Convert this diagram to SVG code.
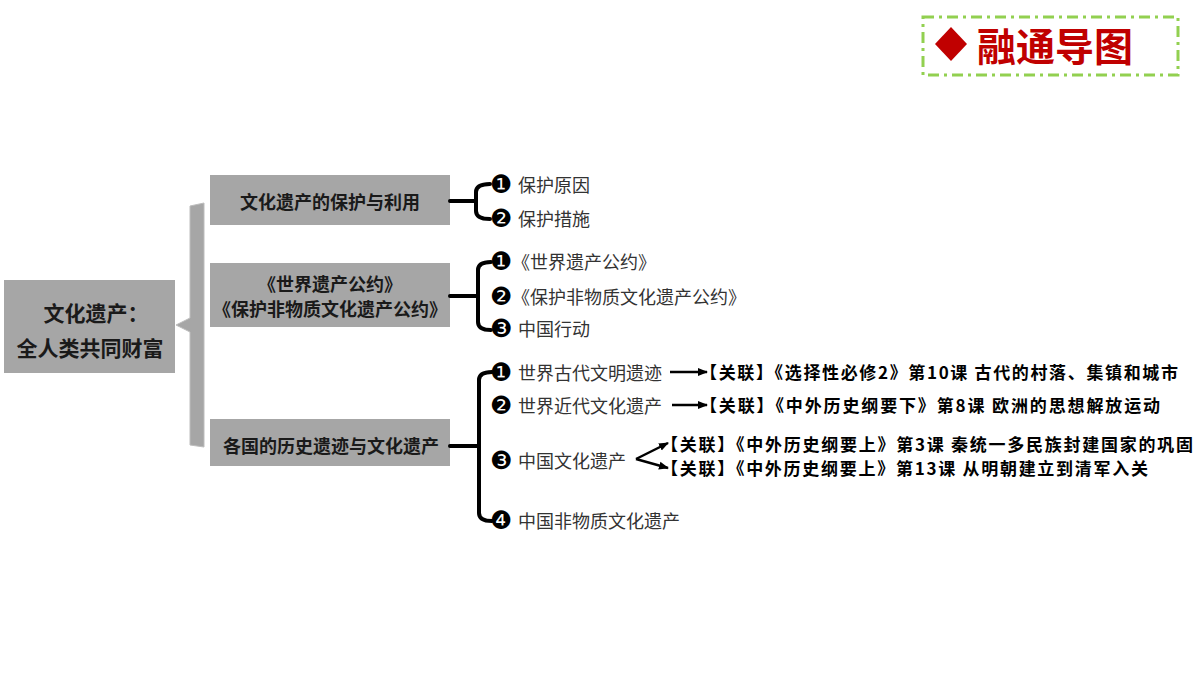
<svg xmlns="http://www.w3.org/2000/svg" width="1200" height="675" viewBox="0 0 1200 675">
<defs>
<marker id="ah" viewBox="0 0 10 10" refX="9" refY="5" markerWidth="4" markerHeight="4" orient="auto" markerUnits="strokeWidth"><path d="M0,1 L10,5 L0,9 z" fill="#000"/></marker>
<style>
.box{fill:#a6a6a6;}
.bt{font-family:"Noto Sans CJK SC","Liberation Sans",sans-serif;font-weight:700;font-size:18px;fill:#1a1a1a;text-anchor:middle;dominant-baseline:central;}
.rt{font-family:"Noto Sans CJK SC","Liberation Sans",sans-serif;font-weight:700;font-size:21px;fill:#1a1a1a;text-anchor:middle;dominant-baseline:central;}
.num{font-family:"DejaVu Sans",sans-serif;font-size:25px;fill:#000;dominant-baseline:central;}
.it{font-family:"Noto Sans CJK SC","Liberation Sans",sans-serif;font-size:18px;fill:#333333;dominant-baseline:central;}
.rel{font-family:"Noto Sans CJK SC","Liberation Sans",sans-serif;font-weight:700;font-size:17px;fill:#000;dominant-baseline:central;}
.br{fill:none;stroke:#000;stroke-width:4;stroke-linecap:round;stroke-linejoin:round;}
.ar{fill:none;stroke:#000;stroke-width:2.5;marker-end:url(#ah);}
</style>
</defs>
<rect width="1200" height="675" fill="#ffffff"/>

<g id="title">
<rect x="923" y="17" width="255" height="58" fill="none" stroke="#92d050" stroke-width="3" stroke-dasharray="11 5 3 5"/>
<polygon points="951,27 967,44 951,61 935,44" fill="#c00000"/>
<text x="977" y="44" font-family="Noto Sans CJK SC,sans-serif" font-weight="700" font-size="39" fill="#c00000" dominant-baseline="central">融通导图</text>
</g>

<g id="root">
<rect class="box" x="4" y="280" width="171" height="93"/>
<text class="rt" x="96" y="312">文化遗产：</text>
<text class="rt" x="90" y="347">全人类共同财富</text>
</g>

<g id="brace">
<polygon points="190,206 204,203 204,447 190,445 190,332 176,325 190,318" fill="#a6a6a6" stroke="#bdbdbd" stroke-width="1"/>
</g>

<g id="box1">
<rect class="box" x="210" y="175" width="240" height="50"/>
<text class="bt" x="330" y="201">文化遗产的保护与利用</text>
</g>
<g id="box2">
<rect class="box" x="210" y="263" width="240" height="64"/>
<text class="bt" x="330" y="283" font-size="17">《世界遗产公约》</text>
<text class="bt" x="330" y="308" font-size="17">《保护非物质文化遗产公约》</text>
</g>
<g id="box3">
<rect class="box" x="210" y="419" width="240" height="47"/>
<text class="bt" x="331" y="445">各国的历史遗迹与文化遗产</text>
</g>

<g id="connectors">
<line class="br" x1="450" y1="201" x2="476" y2="201"/>
<path class="br" d="M490,184 Q476,184 476,192 L476,211 Q476,219 490,219"/>
<line class="br" x1="450" y1="296" x2="478" y2="296"/>
<path class="br" d="M491,262 Q478,262 478,270 L478,322 Q478,330 491,330"/>
<line class="br" x1="450" y1="446" x2="479" y2="446"/>
<path class="br" d="M492,372 Q479,372 479,380 L479,513 Q479,521 492,521"/>
<line class="ar" x1="670" y1="372" x2="707" y2="372"/>
<line class="ar" x1="672" y1="405" x2="707" y2="405"/>
<line class="ar" x1="636" y1="459" x2="668" y2="443"/>
<line class="ar" x1="636" y1="459" x2="668" y2="468"/>
</g>

<g id="items1">
<text class="num" x="490" y="184">❶</text>
<text class="it" x="518" y="184">保护原因</text>
<text class="num" x="490" y="218">❷</text>
<text class="it" x="518" y="218">保护措施</text>
</g>
<g id="items2">
<text class="num" x="490" y="261">❶</text>
<text class="it" x="512" y="261">《世界遗产公约》</text>
<text class="num" x="490" y="296">❷</text>
<text class="it" x="512" y="296">《保护非物质文化遗产公约》</text>
<text class="num" x="490" y="328">❸</text>
<text class="it" x="518" y="328">中国行动</text>
</g>
<g id="items3">
<text class="num" x="490" y="372">❶</text>
<text class="it" x="518" y="372">世界古代文明遗迹</text>
<text class="num" x="490" y="405">❷</text>
<text class="it" x="518" y="405">世界近代文化遗产</text>
<text class="num" x="490" y="460">❸</text>
<text class="it" x="518" y="460">中国文化遗产</text>
<text class="num" x="490" y="520">❹</text>
<text class="it" x="518" y="520">中国非物质文化遗产</text>
</g>
<g id="related">
<text class="rel" x="700" y="371" textLength="478" lengthAdjust="spacing">【关联】《选择性必修2》第10课 古代的村落、集镇和城市</text>
<text class="rel" x="700" y="404" textLength="460" lengthAdjust="spacing">【关联】《中外历史纲要下》第8课 欧洲的思想解放运动</text>
<text class="rel" x="661" y="443" textLength="532" lengthAdjust="spacing">【关联】《中外历史纲要上》第3课 秦统一多民族封建国家的巩固</text>
<text class="rel" x="661" y="467" textLength="487" lengthAdjust="spacing">【关联】《中外历史纲要上》第13课 从明朝建立到清军入关</text>
</g>
</svg>
